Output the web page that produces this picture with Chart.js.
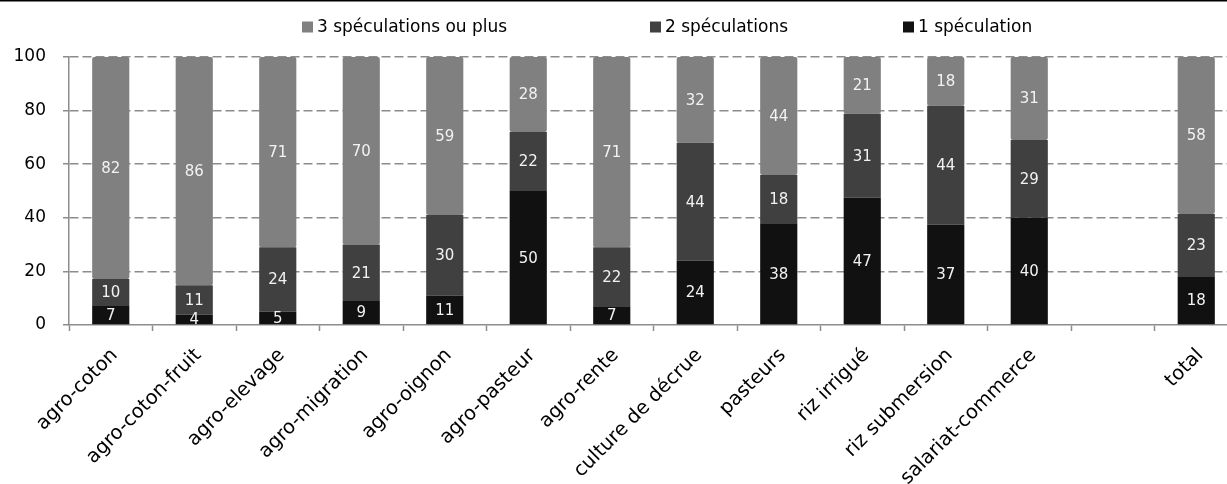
<!DOCTYPE html>
<html lang="fr">
<head>
<meta charset="utf-8">
<title>Nombre de spéculations par système</title>
<script src="https://cdn.jsdelivr.net/npm/chart.js@4.4.1/dist/chart.umd.min.js"></script>
<style>
  html, body { margin: 0; padding: 0; background: #fff; overflow: hidden; }
  #wrap { width: 1240px; height: 484px; }
</style>
</head>
<body>
<div id="wrap"><canvas id="chart" width="1240" height="484"></canvas></div>
<script>
// Systèmes de production (la colonne vide sépare le total)
const categories = [
  'agro-coton', 'agro-coton-fruit', 'agro-elevage', 'agro-migration', 'agro-oignon',
  'agro-pasteur', 'agro-rente', 'culture de décrue', 'pasteurs', 'riz irrigué',
  'riz submersion', 'salariat-commerce', '', 'total'
];

// Part des exploitations (%) selon le nombre de spéculations
const uneSpeculation   = [7, 4, 5, 9, 11, 50, 7, 24, 38, 47, 37, 40, null, 18];
const deuxSpeculations = [10, 11, 24, 21, 30, 22, 22, 44, 18, 31, 44, 29, null, 23];
const troisOuPlus      = [82, 86, 71, 70, 59, 28, 71, 32, 44, 21, 18, 31, null, 58];

const yTicks = [0, 20, 40, 60, 80, 100];

const FONT = 'DejaVu Sans, Verdana, sans-serif';
const AXIS_GREY = '#8c8c8c';

const SERIES = [
  { label: '1 spéculation',          data: uneSpeculation,   colour: '#111111' },
  { label: '2 spéculations',         data: deuxSpeculations, colour: '#404040' },
  { label: '3 spéculations ou plus', data: troisOuPlus,      colour: '#808080' },
];

// 100 % stacking: each column is rescaled so its segments fill 0–100
const columnTotals = categories.map((_, j) =>
  SERIES.reduce((sum, s) => sum + (s.data[j] || 0), 0));
const asShare = values => values.map((v, j) =>
  v === null ? null : v / columnTotals[j] * 100);

// White numbers centred in each stacked segment
const segmentLabels = {
  id: 'segmentLabels',
  afterDatasetsDraw(chart) {
    const ctx = chart.ctx;
    ctx.save();
    ctx.font = '15px ' + FONT;
    ctx.fillStyle = '#f2f2f2';
    ctx.textAlign = 'center';
    ctx.textBaseline = 'middle';
    chart.data.datasets.forEach((ds, i) => {
      const meta = chart.getDatasetMeta(i);
      meta.data.forEach((bar, j) => {
        const v = SERIES[i].data[j];
        if (v === null || v === undefined) return;
        const y = (bar.y + bar.base) / 2;
        ctx.fillText(String(v), bar.x, y + 1);
      });
    });
    ctx.restore();
  }
};

// Legend row along the top (3 → 2 → 1) plus the frame line
const topLegend = {
  id: 'topLegend',
  afterDraw(chart) {
    const ctx = chart.ctx;
    ctx.save();
    ctx.fillStyle = '#000';
    ctx.fillRect(0, 0, chart.width, 1.5);

    ctx.font = '17px ' + FONT;
    ctx.textBaseline = 'middle';
    ctx.textAlign = 'left';
    const box = 11, gapText = 4, yMid = 27;
    const starts = [302, 650, 903];
    [...SERIES].reverse().forEach((s, k) => {
      const x = starts[k];
      ctx.fillStyle = s.colour;
      ctx.fillRect(x, yMid - box / 2, box, box);
      ctx.fillStyle = '#000';
      ctx.fillText(s.label, x + box + gapText, yMid + 1);
    });
    ctx.restore();
  }
};

new Chart(document.getElementById('chart'), {
  type: 'bar',
  data: {
    labels: categories,
    datasets: SERIES.map(s => ({
      label: s.label,
      data: asShare(s.data),
      backgroundColor: s.colour,
      borderRadius: 2,
      borderSkipped: false,
      barPercentage: 0.445,
      categoryPercentage: 1,
    })),
  },
  options: {
    responsive: false,
    animation: false,
    events: [],
    layout: { padding: { top: 57, right: 2, left: 0, bottom: 0 } },
    plugins: {
      legend: { display: false },
      tooltip: { enabled: false },
    },
    scales: {
      x: {
        stacked: true,
        offset: true,
        afterFit(scale) { scale.height = 159; },
        grid: {
          offset: true,
          drawOnChartArea: false,
          drawTicks: true,
          tickLength: 6,
          tickColor: AXIS_GREY,
          tickWidth: 1.5,
        },
        border: { color: AXIS_GREY, width: 1.5 },
        ticks: {
          autoSkip: false,
          minRotation: 45,
          maxRotation: 45,
          padding: 13,
          labelOffset: 4,
          color: '#000',
          font: { family: FONT, size: 19.5 },
        },
      },
      y: {
        stacked: true,
        min: 0,
        max: 100,
        afterFit(scale) { scale.width = 69; },
        afterBuildTicks(scale) { scale.ticks = yTicks.map(v => ({ value: v })); },
        grid: {
          color: ctx => (ctx.tick && ctx.tick.value === 0 ? 'rgba(0,0,0,0)' : AXIS_GREY),
          lineWidth: 1.5,
          drawTicks: true,
          tickLength: 6,
          tickColor: AXIS_GREY,
          tickWidth: 1.5,
          tickBorderDash: [],
        },
        border: { color: AXIS_GREY, width: 1.5, dash: [9, 4] },
        ticks: {
          padding: 17,
          color: '#000',
          font: { family: FONT, size: 17 },
        },
      },
    },
  },
  plugins: [segmentLabels, topLegend],
});
</script>
</body>
</html>
